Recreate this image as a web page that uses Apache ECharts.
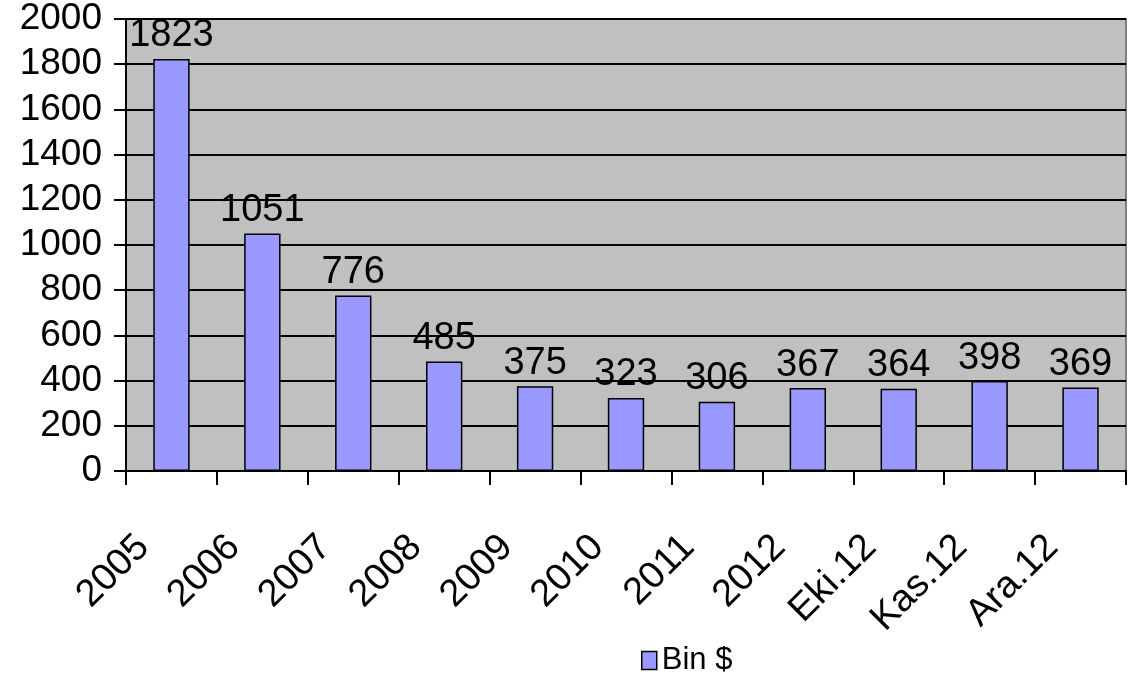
<!DOCTYPE html>
<html>
<head>
<meta charset="utf-8">
<script src="https://cdn.jsdelivr.net/npm/echarts@6/dist/echarts.min.js"></script>
<style>
  html, body { margin: 0; padding: 0; background: #fff; }
  #chart { width: 1129px; height: 681px; }
</style>
</head>
<body>
<div id="chart"></div>
<script>
// kategoriler ve değerler
const categories = ['2005', '2006', '2007', '2008', '2009', '2010', '2011', '2012', 'Eki.12', 'Kas.12', 'Ara.12'];
const values = [1823, 1051, 776, 485, 375, 323, 306, 367, 364, 398, 369];
const seriesName = 'Bin $';

const font = 'Liberation Sans, Arial, sans-serif';
let myChart = echarts.init(document.getElementById('chart'));
myChart.setOption({
  animation: false,
  textStyle: { fontFamily: font },
  grid: {
    left: 126,
    right: 3,
    top: 19,
    bottom: 210,
    show: true,
    backgroundColor: '#C0C0C0',
    borderColor: '#808080',
    borderWidth: 2,
  },
  legend: {
    data: [seriesName],
    left: 636,
    top: 640,
    icon: 'rect',
    itemWidth: 15,
    itemHeight: 18,
    itemGap: 6,
    itemStyle: { borderColor: '#000', borderWidth: 1.5 },
    textStyle: { fontSize: 31, color: '#000', fontFamily: font },
  },
  xAxis: {
    type: 'category',
    data: categories,
    axisLine: { lineStyle: { color: '#000', width: 2 } },
    axisTick: { show: true, length: 14, lineStyle: { color: '#000', width: 2 } },
    axisLabel: {
      rotate: 45,
      fontSize: 38,
      color: '#000',
      margin: 42,
      padding: [0, 40, 0, 0],
      interval: 0,
      fontFamily: font,
    },
  },
  yAxis: {
    type: 'value',
    min: 0,
    max: 2000,
    interval: 200,
    axisLine: { show: true, lineStyle: { color: '#000', width: 2 } },
    axisTick: { show: true, length: 12, lineStyle: { color: '#000', width: 2 } },
    axisLabel: {
      fontSize: 37,
      color: '#000',
      margin: 24,
      fontFamily: font,
      formatter: (v) => String(v),
    },
    splitLine: { show: true, lineStyle: { color: '#000', width: 2 } },
  },
  series: [{
    name: seriesName,
    type: 'bar',
    data: values,
    barWidth: '40%',
    itemStyle: { color: '#9999FF', borderColor: '#000', borderWidth: 1.5 },
    label: {
      show: true,
      position: 'top',
      distance: 4,
      fontSize: 38,
      color: '#000',
      fontFamily: font,
    },
  }],
});
</script>
</body>
</html>
